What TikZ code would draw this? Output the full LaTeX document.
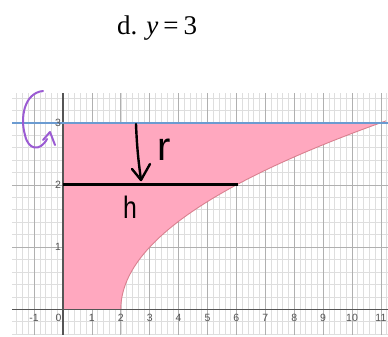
\documentclass[tikz,border=0pt]{standalone}
\usepackage{fontspec}
\setmainfont{Liberation Serif}
\newfontfamily\handfont{Liberation Sans}
\newfontfamily\tickfont{Liberation Sans}
\definecolor{minorgrid}{HTML}{DEDEDE}
\definecolor{majorgrid}{HTML}{B0B0B0}
\definecolor{axiscol}{HTML}{555555}
\definecolor{pinkfill}{HTML}{FFA8BF}
\definecolor{curvecol}{HTML}{D9808F}
\definecolor{bluecol}{HTML}{6B9BD1}
\definecolor{purplecol}{HTML}{9B5BD3}
\begin{document}
\begin{tikzpicture}[x=1pt,y=1pt,
  minor/.style={draw=minorgrid,line width=0.6pt},
  major/.style={draw=majorgrid,line width=0.7pt},
  axis/.style={draw=axiscol,line width=1.1pt},
  ticklab/.style={font=\tickfont\fontsize{10.5}{10.5}\selectfont,text=axiscol,inner sep=0pt},
  titlestyle/.style={font=\fontsize{27}{30}\selectfont,inner sep=0pt},
  hand/.style={draw=black,line width=2.4pt,line cap=round,line join=round},
  phand/.style={draw=purplecol,line width=2pt,line cap=round,line join=round},
  handtext/.style={font=\handfont\fontsize{40}{40}\selectfont,inner sep=0pt}]
\useasboundingbox (0,0) rectangle (388,-337);
\fill[white] (0,0) rectangle (388,-337);
\node[titlestyle,anchor=base west] (title) at (117,-35) {d.\hspace{9pt}\textit{y}\hspace{5pt}=\hspace{5pt}3};
\begin{scope}[shift={(63,-309.3)},x=28.9pt,y=62.2pt]
  \foreach \i in {-8,...,56} \draw[minor] (\i*0.2,-0.41) -- (\i*0.2,3.48);
  \foreach \j in {-2,...,17} \draw[minor] (-1.76,\j*0.2) -- (11.25,\j*0.2);
  \foreach \i in {-1,...,11} \draw[major] (\i,-0.41) -- (\i,3.48);
  \foreach \j in {1,2,3} \draw[major] (-1.76,\j) -- (11.25,\j);
  \fill[pinkfill] (0,0) -- (2,0) -- plot[domain=0:3,samples=60,variable=\t] ({\t*\t+2},\t) -- (0,3) -- cycle;
  \draw[curvecol,line width=0.9pt] plot[domain=0:3.03,samples=60,variable=\t] ({\t*\t+2},\t);
  \draw[axis] (-1.76,0) -- (11.25,0);
  \draw[axis] (0,-0.41) -- (0,3.48);
  \draw[bluecol,line width=1.6pt] (-1.76,3) -- (11.25,3);
  \foreach \i in {-1,1,2,3,4,5,6,7,8,9,10,11}
    \node[ticklab] (xl\i) at (\i,-0.145) {\i};
  \node[ticklab] (xl0) at (-0.15,-0.145) {0};
  \foreach \j in {1,2,3}
    \node[ticklab] (yl\j) at (-0.17,\j) {\j};
  \coordinate (h0) at (0,2);
  \coordinate (h1) at (6.05,2);
  \draw[line width=3pt] (h0) -- (h1);
\end{scope}
% handwritten arrow r
\coordinate (ra) at (136,-124);
\coordinate (rb) at (141,-180);
\draw[hand] (ra) .. controls (137,-150) and (139,-165) .. (rb);
\draw[hand] (132,-169) -- (rb) -- (150,-164);
\node[handtext] (r) at (164,-150) {r};
\node[handtext,font=\handfont\fontsize{31}{31}\selectfont,xscale=0.8] (h) at (130,-207) {h};
% purple rotation arrow
\coordinate (p0) at (43,-91);
\coordinate (p1) at (47,-139);
\draw[phand] (p0) .. controls (24,-93) and (20,-118) .. (25,-135)
  .. controls (28,-150) and (40,-152) .. (p1);
\draw[phand] (43,-140) -- (50,-132) -- (55,-145);
\end{tikzpicture}
\end{document}
